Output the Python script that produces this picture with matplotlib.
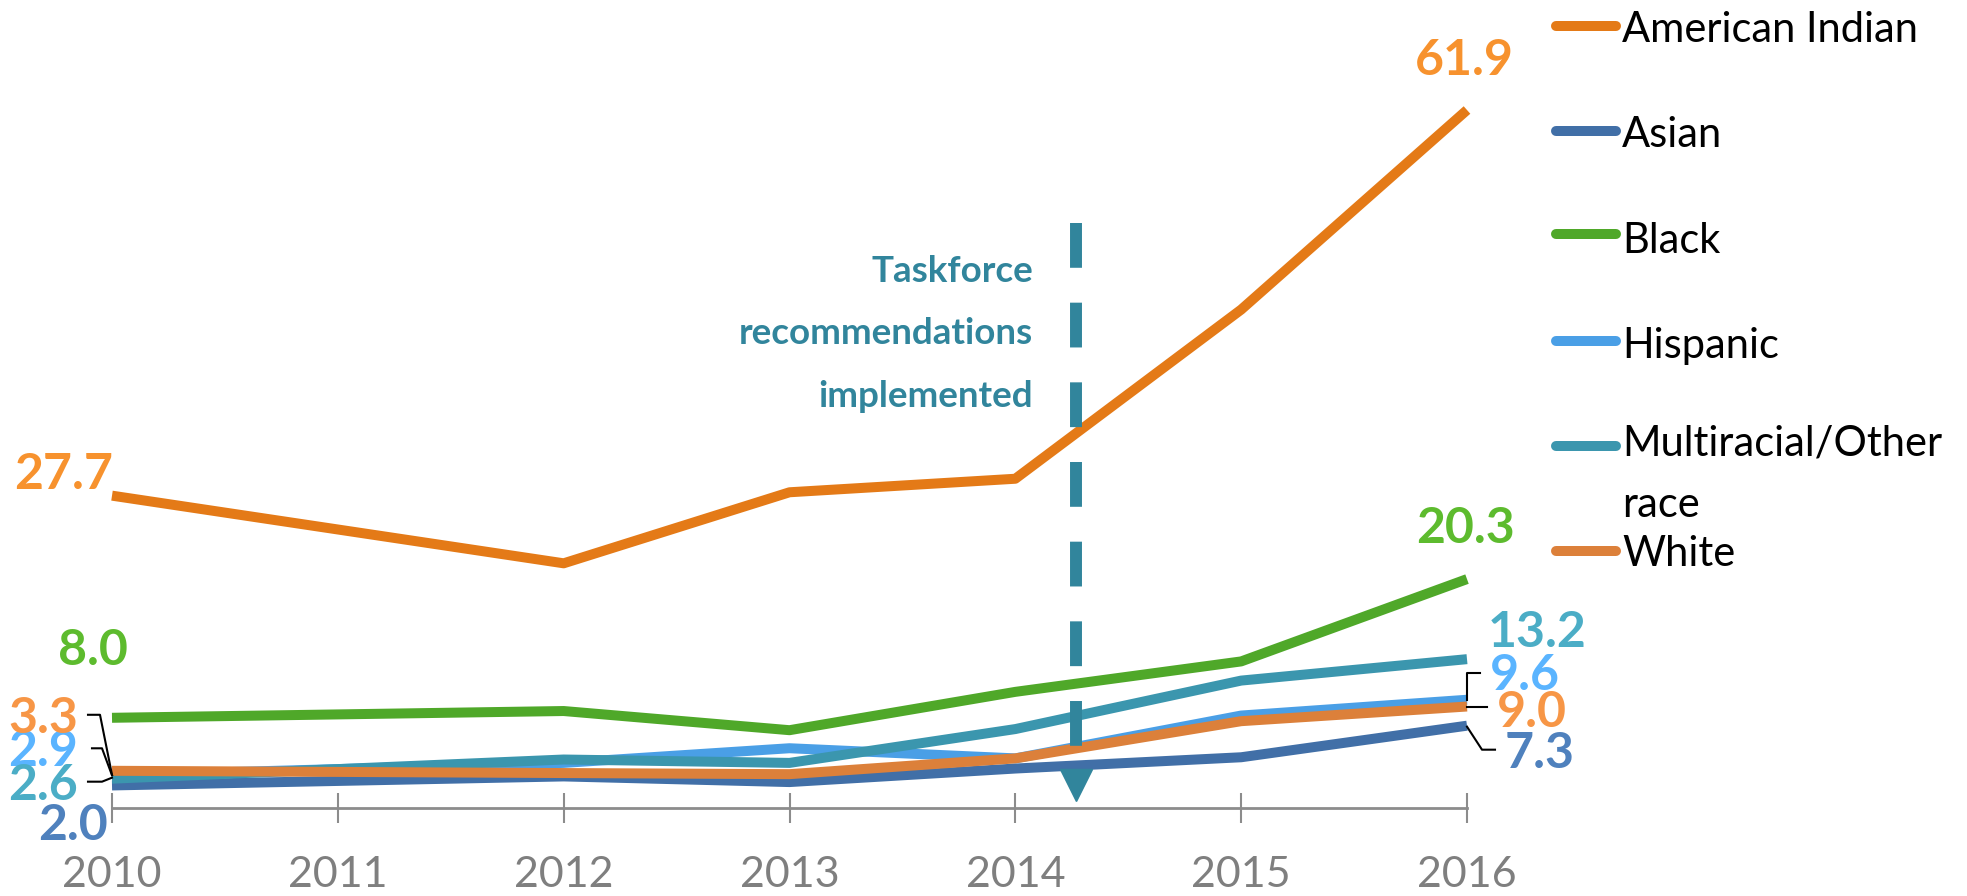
import matplotlib
matplotlib.use("Agg")
import matplotlib.pyplot as plt
import matplotlib.transforms as mtransforms
from matplotlib.lines import Line2D

plt.rcParams['font.family'] = ['Lato', 'DejaVu Sans']

# data (no point for 2011)
years = [2010, 2012, 2013, 2014, 2015, 2016]
tick_years = [2010, 2011, 2012, 2013, 2014, 2015, 2016]
groups = ["American Indian", "Asian", "Black", "Hispanic", "Multiracial/Other race", "White"]
american_indian = [27.7, 21.7, 28.0, 29.2, 44.2, 61.9]
asian = [2.0, 2.8, 2.3, 3.5, 4.5, 7.3]
black = [8.0, 8.6, 6.9, 10.3, 13.0, 20.3]
hispanic = [2.9, 4.0, 5.3, 4.4, 8.2, 9.6]
multiracial = [2.6, 4.3, 4.0, 7.0, 11.3, 13.2]
white = [3.3, 3.1, 3.0, 4.4, 7.7, 9.0]
series = [american_indian, asian, black, hispanic, multiracial, white]
policy_year = 2014.27
policy_text = "Taskforce\nrecommendations\nimplemented"

line_colors = ['#E47A17', '#416FA7', '#4FA829', '#4A9FE6', '#3B96AE', '#DC803A']
label_colors = ['#F7922E', '#4F81BD', '#5DBB2E', '#5AB4FF', '#4BADC6', '#F79646']
teal = '#31859C'

W, H = 1967, 896
fig = plt.figure(figsize=(W / 100, H / 100), dpi=100)
ax = fig.add_axes([112 / W, 88 / H, (1467 - 112) / W, 70 * 11.276 / H])
ax.set_xlim(2010, 2016)
ax.set_ylim(0, 70)

for vals, col in zip(series, line_colors):
    ax.plot(years, vals, color=col, lw=7.2, solid_capstyle='butt',
            solid_joinstyle='round', clip_on=False)

# end labels: (dx, dy, ha) in pixels from the data point
first_pos = [(1, 7, 'right'), (-4, -55, 'right'), (16, 53, 'right'),
             (-34, 9, 'right'), (-34, -21, 'right'), (-34, 38, 'right')]
last_pos = [(-3, 35, 'center'), (38, -42, 'left'), (-2, 36, 'center'),
            (23, 10, 'left'), (21, 12, 'left'), (30, -20, 'left')]
for vals, col, fp, lp in zip(series, label_colors, first_pos, last_pos):
    for x, v, (dx, dy, ha) in [(years[0], vals[0], fp), (years[-1], vals[-1], lp)]:
        ax.annotate(f"{v:.1f}", xy=(x, v), xytext=(dx, dy), textcoords='offset pixels',
                    ha=ha, va='baseline', fontsize=36, fontweight='bold', color=col,
                    annotation_clip=False)

# leader lines, pixel offsets from the data point
leaders = [
    (years[0], white[0], [(-24, 56), (-12, 56), (0, -4)]),
    (years[0], hispanic[0], [(-20, 27), (-10, 27), (0, 0)]),
    (years[0], multiracial[0], [(-24, -3), (-10, -3), (0, 1)]),
    (years[-1], hispanic[-1], [(13, 27), (0, 27), (0, 0)]),
    (years[-1], white[-1], [(0, 0), (20, 0)]),
    (years[-1], asian[-1], [(0, -1), (15, -24), (28, -24)]),
]
for x, v, pts in leaders:
    tr = mtransforms.ScaledTranslation(x, v, ax.transData)
    ax.add_line(Line2D([p[0] for p in pts], [p[1] for p in pts], transform=tr,
                       color='black', lw=1.5, clip_on=False))

# policy marker
ax.plot([policy_year, policy_year], [51.9, 5.5], color=teal, lw=8.6,
        linestyle=(0, (3.75, 2.92)), dash_capstyle='butt', zorder=5)
ax.plot(policy_year, 2.0, marker='v', markersize=23, color=teal, zorder=5, clip_on=False)
ax.text(2014.078, 35.56, policy_text, ha='right', va='baseline', multialignment='right',
        fontsize=26.5, fontweight='bold', color=teal, linespacing=2.1)

for s in ['top', 'right', 'left']:
    ax.spines[s].set_visible(False)
ax.spines['bottom'].set_color('#8c8c8c')
ax.spines['bottom'].set_linewidth(2)
ax.set_yticks([])
ax.set_xticks(tick_years)
ax.set_xticklabels([str(y) for y in tick_years])
ax.tick_params(axis='x', direction='inout', length=21.6, width=1.5, color='#8c8c8c',
               labelsize=31, labelcolor='#7f7f7f', pad=24)

# legend on the right (baseline of the last line of each label)
handle_y = [26, 131, 234, 341, 446, 551]
text_y = [42, 147, 253, 358, 517, 566]
for name, col, hy, ty in zip(groups, line_colors, handle_y, text_y):
    fig.add_artist(Line2D([1556 / W, 1616 / W], [1 - hy / H] * 2, color=col, lw=7.2,
                          solid_capstyle='round'))
    fig.text(1622 / W, 1 - ty / H, name.replace("Other ", "Other\n"), fontsize=30,
             va='baseline', color='black', linespacing=1.75)

fig.savefig("out.png", dpi=100)
